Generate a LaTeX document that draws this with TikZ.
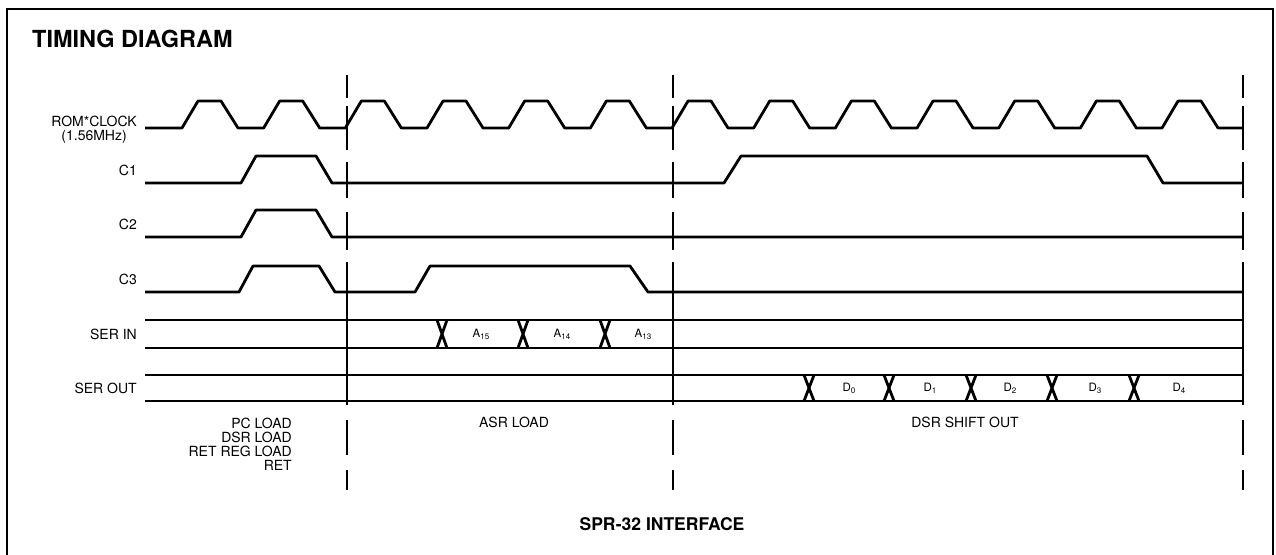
\documentclass[tikz,border=0pt]{standalone}
\usepackage{fontspec}
\setmainfont{TeX Gyre Heros}
\usetikzlibrary{positioning}

\newcommand{\busval}[2]{#1\raisebox{-0.35ex}{\fontsize{8}{8}\selectfont #2}}

\begin{document}
\begin{tikzpicture}[x=1pt,y=-1pt,
    sig/.style={line width=2.8pt, line join=round},
    bound/.style={line width=2.6pt},
    frame/.style={line width=1.8pt},
    lbl/.style={font=\fontsize{14}{14}\selectfont, inner sep=0pt},
    dat/.style={font=\fontsize{11.5}{11.5}\selectfont, inner sep=0pt},
    head/.style={font=\bfseries\fontsize{23.5}{23.5}\selectfont, inner sep=0pt}]
        \useasboundingbox (0,0) rectangle (1276,554);
        % Outer frame and titles
        \draw[frame] (7,556) -- (7,9) -- (1273,9) -- (1273,556);
        \node[head, anchor=base west] (title) at (32,47) {TIMING DIAGRAM};
        \node[head, font=\bfseries\fontsize{17.5}{17.5}\selectfont] (caption) at (662,524) {SPR-32 INTERFACE};
        % Signal names
        \node[lbl, anchor=east, align=center] (lclk) at (137,130) {ROM*CLOCK\\(1.56MHz)};
        \node[lbl, anchor=east] (lcA) at (137,170) {C1};
        \node[lbl, anchor=east] (lcB) at (137,224) {C2};
        \node[lbl, anchor=east] (lcC) at (137,279) {C3};
        \node[lbl, anchor=east] (lsin) at (137,334) {SER IN};
        \node[lbl, anchor=east] (lsout) at (137,388) {SER OUT};
        % Clock
        \draw[sig] (145,128) \foreach \k in {0,...,12}{
            -- ({182+81.67*\k},128) -- ({198+81.67*\k},101)
            -- ({221+81.67*\k},101) -- ({238+81.67*\k},128)} -- (1243,128);
        % Control lines
        \draw[sig] (145,183) -- (241,183) -- (256,156) -- (316,156) -- (332,183)
            -- (724,183) -- (741,156) -- (1147,156) -- (1163,183) -- (1243,183);
        \draw[sig] (145,237) -- (241,237) -- (256,210) -- (316,210) -- (332,237) -- (1243,237);
        \draw[sig] (145,292) -- (239,292) -- (253,266) -- (319,266) -- (335,292)
            -- (415,292) -- (430,266) -- (630,266) -- (648,292) -- (1243,292);
        % Serial input bus
        \draw[sig] (145,320) -- (1243,320);
        \draw[sig] (145,348) -- (1243,348);
        \foreach \xc in {442,523,605}
            \draw[sig] (\xc-5,320) -- (\xc+5,348) (\xc-5,348) -- (\xc+5,320);
        \node[dat] (aA) at (481,334) {\busval{A}{15}};
        \node[dat] (aB) at (562,334) {\busval{A}{14}};
        \node[dat] (aC) at (643,334) {\busval{A}{13}};
        % Serial output bus
        \draw[sig] (145,375) -- (1243,375);
        \draw[sig] (145,401) -- (1243,401);
        \foreach \xc in {809,889,971,1052,1134}
            \draw[sig] (\xc-5,375) -- (\xc+5,401) (\xc-5,401) -- (\xc+5,375);
        \foreach \xd/\i in {849/0,930/1,1010/2,1095/3,1179/4}
            \node[dat] (d\i) at (\xd,388) {\busval{D}{\i}};
        % Phase boundaries
        \foreach \xb in {347,673,1243}
            \foreach \ya/\yb in {75/98,106/150,162/198,212/250,262/405,420/455,470/490}
                \draw[bound] (\xb,\ya) -- (\xb,\yb);
        % Phase names
        \node[lbl, anchor=north east, align=right] (pload) at (292,418)
            {PC LOAD\\DSR LOAD\\RET REG LOAD\\RET};
        \node[lbl] (asr) at (514,422) {ASR LOAD};
        \node[lbl] (dsr) at (965,422) {DSR SHIFT OUT};
      \end{tikzpicture}
\end{document}
